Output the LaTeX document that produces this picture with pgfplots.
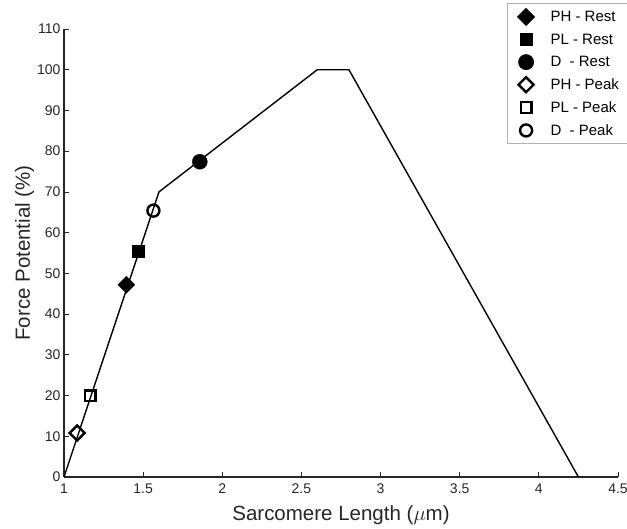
\documentclass[border=0pt]{standalone}
\usepackage{fontspec}
\setmainfont{Liberation Sans}
\usepackage{pgfplots}
\pgfplotsset{compat=1.18}
\definecolor{ax}{RGB}{38,38,38}
\begin{document}
\begin{tikzpicture}[x=1pt,y=1pt]
\clip (0,0) rectangle (627,529);
\useasboundingbox (0,0) rectangle (627,529);
\begin{axis}[
  at={(64pt,52pt)}, anchor=origin,
  width=554pt, height=448pt, scale only axis,
  xmin=1, xmax=4.5, ymin=0, ymax=110,
  xtick={1,1.5,...,4.5}, ytick={0,10,...,110},
  xticklabels={1,1.5,2,2.5,3,3.5,4,4.5},
  axis x line*=bottom, axis y line*=left,
  axis line style={ax, line width=1.2pt, -},
  tick style={ax, line width=0.8pt}, tick align=inside,
  major tick length=5pt,
  tick label style={font=\fontsize{14}{16}\selectfont, text=ax},
  xticklabel style={yshift=-3pt},
  /pgf/number format/assume math mode=true,
  xlabel={Sarcomere Length ($\mu$m)},
  ylabel={Force Potential (\%)},
  label style={font=\fontsize{20.5}{24}\selectfont, text=ax},
  xlabel style={yshift=-5pt},
  ylabel style={yshift=-4pt},
  legend style={at={(0.800,1.058)}, anchor=north west,
    font=\fontsize{15}{18}\selectfont, draw=gray!60, line width=0.8pt,
    row sep=6.5pt, column sep=14pt, inner xsep=10pt, inner ysep=5pt},
  legend cell align=left,
  clip=false,
]
\addplot[black, line width=1.4pt, forget plot] coordinates {(1,0) (1.6,70) (2.6,100) (2.8,100) (4.25,0)};
\addplot[only marks, mark=square*, mark size=6pt, black, mark options={rotate=45}] coordinates {(1.394,47.2)};
\addplot[only marks, mark=square*, mark size=6pt, black] coordinates {(1.47,55.5)};
\addplot[only marks, mark=*, mark size=7.5pt, black] coordinates {(1.858,77.4)};
\addplot[only marks, mark=square, mark size=5.3pt, black, line width=2.4pt, mark options={fill=white, rotate=45, line width=2.4pt}] coordinates {(1.083,10.8)};
\addplot[only marks, mark=square, mark size=5.3pt, black, line width=2.4pt, mark options={fill=white, line width=2.4pt}] coordinates {(1.165,19.9)};
\addplot[only marks, mark=o, mark size=6pt, black, line width=2.4pt, mark options={fill=white, line width=2.4pt}] coordinates {(1.565,65.4)};
\legend{PH - Rest, PL - Rest, D\ \ - Rest, PH - Peak, PL - Peak, D\ \ - Peak}
\end{axis}
\end{tikzpicture}
\end{document}
